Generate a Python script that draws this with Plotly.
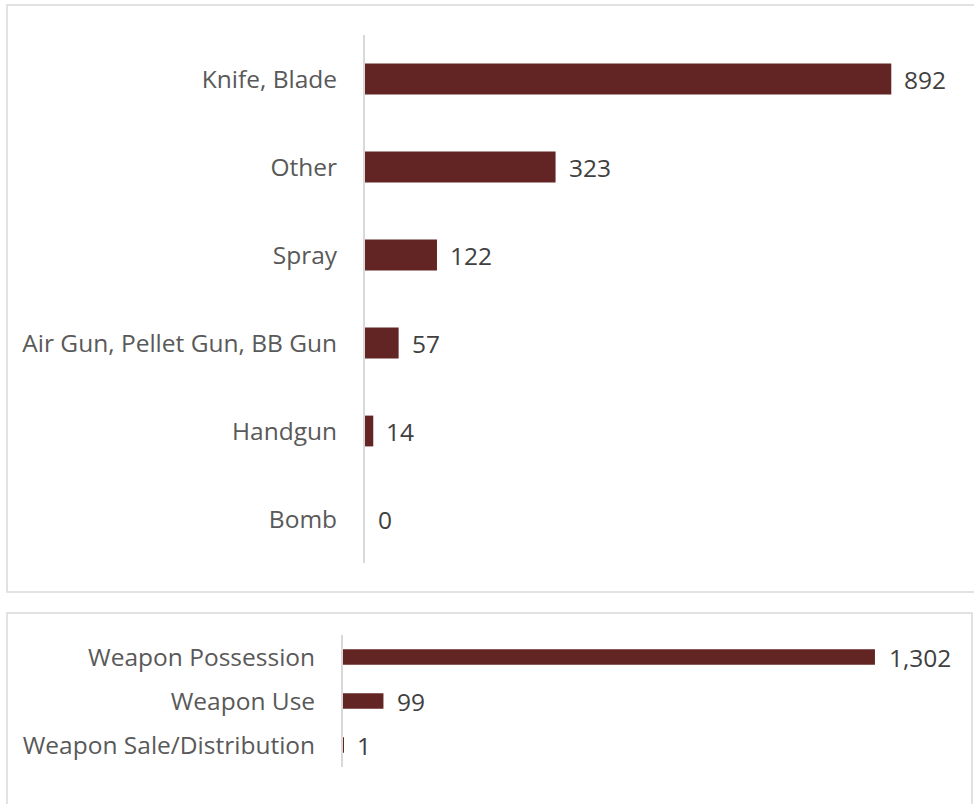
import plotly.graph_objects as go

# Weapon types involved
weapon_types = ["Knife, Blade", "Other", "Spray", "Air Gun, Pellet Gun, BB Gun", "Handgun", "Bomb"]
weapon_counts = [892, 323, 122, 57, 14, 0]

# Weapon offence categories
offence_types = ["Weapon Possession", "Weapon Use", "Weapon Sale/Distribution"]
offence_counts = [1302, 99, 1]

W, H = 974, 804
BAR = "#632523"
GRID = "#d9d9d9"
CAT_COLOR = "#595959"
VAL_COLOR = "#404040"
FONT = "Open Sans"
SIZE = 24.5


def px_x(x):
    return x / W


def px_y(y):
    return 1 - y / H


fig = go.Figure()

fig.add_trace(go.Bar(
    x=weapon_counts, y=weapon_types, orientation="h",
    marker=dict(color=BAR, line=dict(width=0)),
    xaxis="x", yaxis="y", hoverinfo="x+y",
))
fig.add_trace(go.Bar(
    x=offence_counts, y=offence_types, orientation="h",
    marker=dict(color=BAR, line=dict(width=0)),
    xaxis="x2", yaxis="y2", hoverinfo="x+y",
))

annotations = []
for cat, val in zip(weapon_types, weapon_counts):
    annotations.append(dict(
        x=val, y=cat, xref="x", yref="y", text=f"{val:,}",
        showarrow=False, xanchor="left", xshift=11,
        font=dict(family=FONT, size=SIZE, color=VAL_COLOR),
    ))
for cat, val in zip(offence_types, offence_counts):
    annotations.append(dict(
        x=val, y=cat, xref="x2", yref="y2", text=f"{val:,}",
        showarrow=False, xanchor="left", xshift=12,
        font=dict(family=FONT, size=SIZE, color=VAL_COLOR),
    ))

# panel frames
shapes = [
    dict(type="rect", xref="paper", yref="paper",
         x0=px_x(7), x1=px_x(990), y0=px_y(592), y1=px_y(5),
         line=dict(color=GRID, width=1.5), layer="below"),
    dict(type="rect", xref="paper", yref="paper",
         x0=px_x(7), x1=px_x(972), y0=px_y(820), y1=px_y(613),
         line=dict(color=GRID, width=1.5), layer="below"),
]

fig.update_layout(
    width=W, height=H,
    margin=dict(l=0, r=0, t=0, b=0),
    paper_bgcolor="white", plot_bgcolor="white",
    showlegend=False,
    bargap=0.65,
    font=dict(family=FONT, size=SIZE, color=CAT_COLOR),
    xaxis=dict(domain=[px_x(365), px_x(955)], range=[0, 1000],
               visible=False, fixedrange=True),
    yaxis=dict(domain=[px_y(563), px_y(35)], autorange="reversed",
               showline=True, linecolor=GRID, linewidth=2,
               showgrid=False, ticks="", ticklabelstandoff=21,
               tickfont=dict(family=FONT, size=SIZE, color=CAT_COLOR),
               anchor="x"),
    xaxis2=dict(domain=[px_x(343), px_x(915)], range=[0, 1400],
                visible=False, fixedrange=True, anchor="y2"),
    yaxis2=dict(domain=[px_y(767), px_y(635)], autorange="reversed",
                showline=True, linecolor=GRID, linewidth=2,
                showgrid=False, ticks="", ticklabelstandoff=21,
                tickfont=dict(family=FONT, size=SIZE, color=CAT_COLOR),
                anchor="x2"),
    annotations=annotations,
    shapes=shapes,
)

fig.write_html("out.html")
